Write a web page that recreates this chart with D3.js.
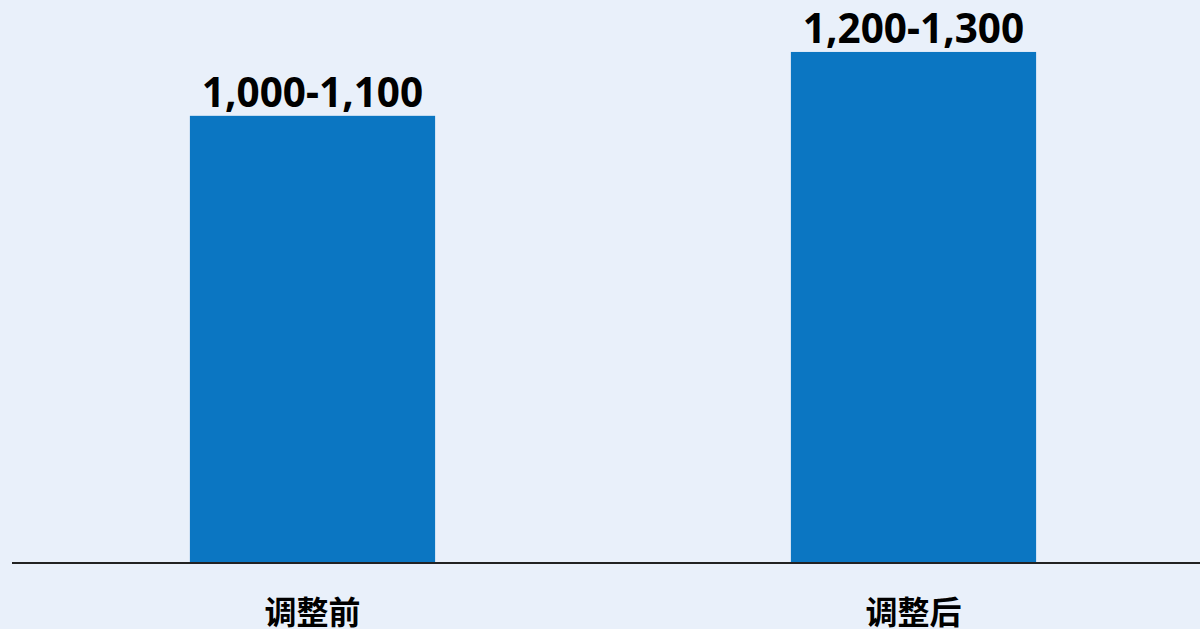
<!DOCTYPE html>
<html><head><meta charset="utf-8">
<script src="https://cdn.jsdelivr.net/npm/d3@7"></script>
<style>html,body{margin:0;padding:0;background:#E9F0FA;}svg{display:block;}</style>
</head><body>
<svg id="chart" width="1200" height="629"></svg>
<script>
const categories = ["调整前", "调整后"];
const values = [1050, 1200];
const valueLabels = ["1,000-1,100", "1,200-1,300"];

const W = 1200, H = 629;
const baseY = 563;
const svg = d3.select("#chart");
svg.append("rect").attr("width", W).attr("height", H).attr("fill", "#E9F0FA");

const x = d3.scaleBand().domain(categories).range([12, 1214]).paddingInner(0.592).paddingOuter(0.296);
const y = d3.scaleLinear().domain([0, 1322]).range([baseY, 0]);

svg.selectAll("rect.bar").data(categories).enter().append("rect")
  .attr("class", "bar")
  .attr("x", d => x(d))
  .attr("width", x.bandwidth())
  .attr("y", (d, i) => y(values[i]))
  .attr("height", (d, i) => baseY - y(values[i]))
  .attr("fill", "#0B76C2");

svg.selectAll("text.val").data(categories).enter().append("text")
  .attr("class", "val")
  .attr("x", d => x(d) + x.bandwidth() / 2)
  .attr("y", (d, i) => y(values[i]) - 9)
  .attr("text-anchor", "middle")
  .attr("font-family", "'Noto Sans', 'Open Sans', sans-serif")
  .attr("font-weight", "bold")
  .attr("font-size", 40.5)
  .attr("fill", "#000")
  .text((d, i) => valueLabels[i]);

const xAxis = d3.axisBottom(x).tickSize(0).tickPadding(0);
const gx = svg.append("g").attr("transform", `translate(0,${baseY})`).call(xAxis);
gx.select(".domain").attr("d", `M12,0H1200`).attr("stroke", "#222").attr("stroke-width", 2);
gx.selectAll(".tick text")
  .attr("font-family", "'Noto Sans CJK SC', sans-serif")
  .attr("font-weight", "bold")
  .attr("font-size", 32)
  .attr("fill", "#000")
  .attr("dy", null)
  .attr("y", 61);
</script>
</body></html>
